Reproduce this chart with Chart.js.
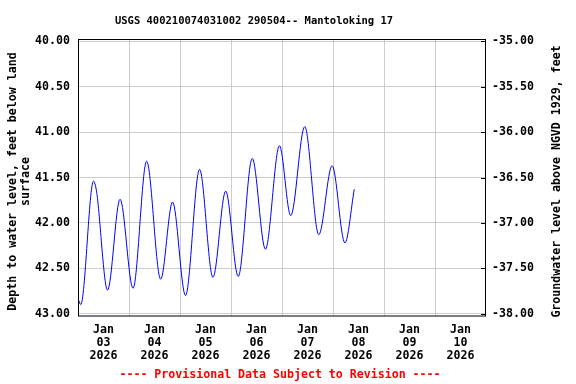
<!DOCTYPE html>
<html lang="en">
<head>
<meta charset="UTF-8">
<title>USGS 400210074031002 290504-- Mantoloking 17</title>
<script src="https://cdn.jsdelivr.net/npm/chart.js"></script>
<style>
  body { margin: 0; background: #fff; }
</style>
</head>
<body>
<canvas id="myChart" width="576" height="384"></canvas>
<script>
// hours after Jan 03 2026 00:00, and depth to water (ft below land surface)
const hours = [0.3, 1.3, 7.3, 8.7, 13.9, 19.8, 25.9, 32.3, 38.9, 44.5, 50.6, 57.2,
  63.5, 69.5, 75.4, 82.0, 88.2, 94.8, 100.1, 106.7, 113.3, 119.6, 125.6, 130.0];
const depth = [42.85, 42.90, 41.54, 41.65, 42.74, 41.74, 42.72, 41.32, 42.62, 41.77, 42.80, 41.41,
  42.60, 41.65, 42.59, 41.29, 42.29, 41.15, 41.92, 40.94, 42.13, 41.37, 42.22, 41.63];

const dayLabels = ["03", "04", "05", "06", "07", "08", "09", "10"];
const depthTicks = [40.0, 40.5, 41.0, 41.5, 42.0, 42.5, 43.0];
const elevTicks = [-35.0, -35.5, -36.0, -36.5, -37.0, -37.5, -38.0];
const gridHours = [24, 48, 72, 96, 120, 144, 168];

const mono = "'DejaVu Sans Mono', 'Liberation Mono', monospace";
const tickFont = { family: mono, size: 11.6, weight: "bold", lineHeight: 1.1 };

const frame = {
  id: "frame",
  afterDraw(chart) {
    const ctx = chart.ctx;
    const a = chart.chartArea;
    ctx.save();
    ctx.strokeStyle = "#000";
    ctx.lineWidth = 1;
    ctx.strokeRect(a.left + 0.5, a.top + 0.5, a.right - a.left - 1, a.bottom - a.top - 0.5);
    // small inner ticks on the right axis
    const y2 = chart.scales.y2;
    y2.ticks.forEach((t) => {
      const py = Math.round(y2.getPixelForValue(t.value)) + 0.5;
      ctx.beginPath();
      ctx.moveTo(a.right - 5, py);
      ctx.lineTo(a.right, py);
      ctx.stroke();
    });

    ctx.fillStyle = "#000";
    ctx.textAlign = "center";
    ctx.textBaseline = "middle";
    ctx.font = "bold 10.5px " + mono;
    ctx.fillText("USGS 400210074031002 290504-- Mantoloking 17", 254, 21);

    ctx.fillStyle = "#ff0000";
    ctx.font = "bold 11.6px " + mono;
    ctx.fillText("---- Provisional Data Subject to Revision ----", 280, 375);

    ctx.fillStyle = "#000";
    const cy = (a.top + a.bottom) / 2 + 4;
    ctx.save();
    ctx.translate(13, cy);
    ctx.rotate(-Math.PI / 2);
    ctx.fillText("Depth to water level, feet below land", 0, 0);
    ctx.fillText("surface", 0, 13);
    ctx.restore();

    ctx.save();
    ctx.translate(557, cy);
    ctx.rotate(-Math.PI / 2);
    ctx.fillText("Groundwater level above NGVD 1929, feet", 0, 0);
    ctx.restore();
    ctx.restore();
  },
};

const data = {
  datasets: [{
    label: "Depth to water level",
    data: hours.map((h, i) => ({ x: h, y: depth[i] })),
    borderColor: "#0000ff",
    borderWidth: 1,
    pointRadius: 0,
    fill: false,
    cubicInterpolationMode: "monotone",
    xAxisID: "x",
    yAxisID: "y",
  }],
};

const config = {
  type: "line",
  data: data,
  options: {
    responsive: false,
    animation: false,
    devicePixelRatio: 1,
    layout: { padding: { top: 39, left: 0, right: 0, bottom: 0 } },
    plugins: {
      legend: { display: false },
      title: { display: false },
      tooltip: { enabled: false },
    },
    scales: {
      x: {
        type: "linear",
        position: "bottom",
        min: 0,
        max: 192,
        afterBuildTicks: (axis) => { axis.ticks = gridHours.map((v) => ({ value: v })); },
        ticks: { display: false },
        grid: { color: "#cccccc", drawTicks: false },
        border: { display: false },
        afterFit: (s) => { s.height = 0; },
      },
      xl: {
        type: "linear",
        position: "bottom",
        min: 0,
        max: 192,
        afterBuildTicks: (axis) => { axis.ticks = dayLabels.map((d, i) => ({ value: 12 + 24 * i })); },
        ticks: {
          callback: (v, i) => ["Jan", dayLabels[i], "2026"],
          font: tickFont,
          color: "#000",
          maxRotation: 0,
          autoSkip: false,
          padding: 8,
        },
        grid: { display: false, drawTicks: false },
        border: { display: false },
        afterFit: (s) => { s.height = 68; },
      },
      y: {
        position: "left",
        reverse: true,
        min: 39.975,
        max: 43.025,
        afterBuildTicks: (axis) => { axis.ticks = depthTicks.map((v) => ({ value: v })); },
        ticks: { callback: (v) => v.toFixed(2), font: tickFont, color: "#000", padding: 8 },
        grid: { color: "#cccccc", drawTicks: false },
        border: { display: false },
        afterFit: (s) => { s.width = 78; },
      },
      y2: {
        position: "right",
        min: -38.025,
        max: -34.975,
        afterBuildTicks: (axis) => { axis.ticks = elevTicks.map((v) => ({ value: v })); },
        ticks: { callback: (v) => v.toFixed(2), font: tickFont, color: "#000", padding: 6 },
        grid: { drawOnChartArea: false, drawTicks: false },
        border: { display: false },
        afterFit: (s) => { s.width = 90; },
      },
    },
  },
  plugins: [frame],
};

const myChart = new Chart(document.getElementById("myChart"), config);
</script>
</body>
</html>
